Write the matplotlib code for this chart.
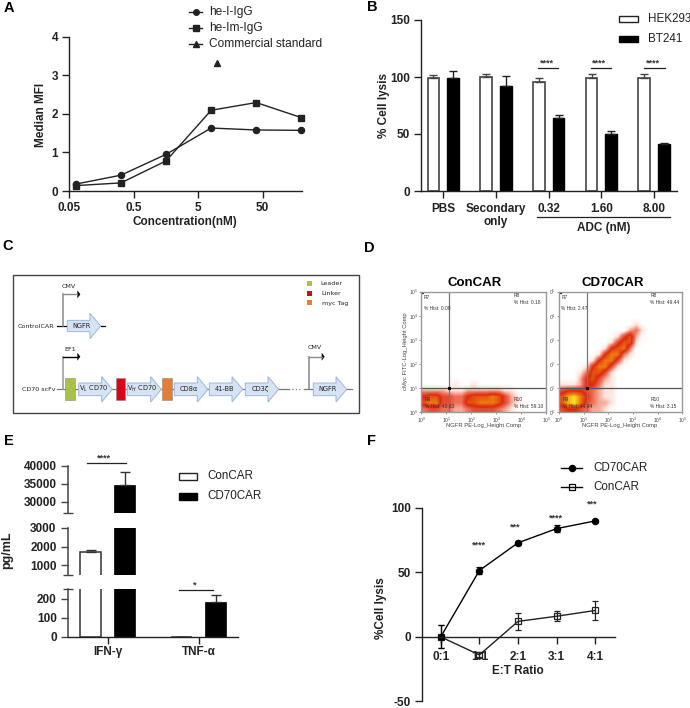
import matplotlib
matplotlib.use('Agg')
import matplotlib.pyplot as plt
import numpy as np
from matplotlib.colors import LinearSegmentedColormap
from matplotlib.patches import Polygon, Rectangle

W, H = 690, 708
DARK = '#222222'

# panel A
conc = [0.064, 0.32, 1.6, 8, 40, 200]
he_i = [0.18, 0.41, 0.95, 1.63, 1.58, 1.57]
he_im = [0.14, 0.21, 0.78, 2.09, 2.29, 1.90]
std_conc = [10]
std_val = [3.32]

# panel B
b_groups = ['PBS', 'Secondary\nonly', '0.32', '1.60', '8.00']
hek = [99.5, 100, 96, 99, 99.5]
hek_err = [2.5, 2.5, 3.5, 3.5, 3.5]
bt = [99.5, 92.5, 64, 50, 41]
bt_err = [6, 8, 3, 2.5, 1.5]

# panel D, density read per quarter decade, top row first
con_density = [
    '00000000000000000000',
    '00000100100000000000',
    '22221112222221100000',
    '56644335666764210000',
    '67744336677764210000',
    '34433223444432100000',
]
cd70_density = [
    '00000000000000000000',
    '00000000000010000000',
    '00000000000231000000',
    '00000000014620000000',
    '00000000146610000000',
    '00000001567300000000',
    '00000015773100000000',
    '00000157741000000000',
    '00001577410000000000',
    '00013664100000000000',
    '00025642100000000000',
    '11125531100000000000',
    '45554321100000000000',
    '68975321100000000000',
    '68974322100000000000',
    '45543221000000000000',
]
con_hist = ['0.09', '0.18', '40.63', '59.10']
cd70_hist = ['2.47', '49.44', '44.94', '3.15']

# panel E
e_groups = ['IFN-γ', 'TNF-α']
con_e = [1700, 0]
con_e_err = [120, 0]
cd70_e = [34800, 185]
cd70_e_err = [3500, 33]

# panel F
ratios = ['0:1', '1:1', '2:1', '3:1', '4:1']
cd70_f = [0, 51.5, 73, 84, 90]
cd70_f_err = [9, 3, 1.5, 2.5, 1]
con_f = [0, -14, 12, 16, 20.5]
con_f_err = [9, 2, 6.5, 4, 7.5]

plt.rcParams['font.family'] = ['Liberation Sans', 'DejaVu Sans']
plt.rcParams['axes.linewidth'] = 1.0
plt.rcParams['axes.edgecolor'] = DARK
plt.rcParams['axes.unicode_minus'] = False
plt.rcParams['xtick.color'] = DARK
plt.rcParams['ytick.color'] = DARK

fig = plt.figure(figsize=(W / 100, H / 100), dpi=100)


def make_ax(left, top, right, bottom):
    return fig.add_axes([left / W, 1 - bottom / H, (right - left) / W, (bottom - top) / H])


def style_ax(ax, size=8.5):
    ax.spines['top'].set_visible(False)
    ax.spines['right'].set_visible(False)
    ax.patch.set_alpha(0)
    ax.tick_params(length=5, width=1, labelsize=size, pad=3)
    for lab in ax.get_xticklabels() + ax.get_yticklabels():
        lab.set_fontweight('bold')


# pixel overlay for labels, legends and the schematic
ov = fig.add_axes([0, 0, 1, 1], zorder=10)
ov.set_xlim(0, W)
ov.set_ylim(H, 0)
ov.axis('off')
ov.patch.set_alpha(0)


def txt(x, y, s, size=8.5, bold=True, ha='center', rot=0, color=DARK, **kw):
    ov.text(x, y, s, fontsize=size, fontweight='bold' if bold else 'normal', ha=ha,
            va='center', rotation=rot, color=color, **kw)


def stars(x, y, s, size=6.5):
    txt(x, y, s, size=size, bold=True, color='#333333')


def sig_line(x1, x2, y):
    ov.plot([x1, x2], [y, y], color=DARK, lw=0.9)


for letter, x, y in [('A', 9, 8), ('B', 372, 7), ('C', 8, 246), ('D', 369, 248),
                     ('E', 9, 441), ('F', 371, 441)]:
    txt(x, y, letter, size=10.5, color='black')

# A
ax = make_ax(69, 36.5, 302, 191)
ax.plot(conc, he_i, '-o', color=DARK, lw=1, ms=4.4, clip_on=False)
ax.plot(conc, he_im, '-s', color=DARK, lw=1, ms=4.4, clip_on=False)
ax.plot(std_conc, std_val, '^', color=DARK, ms=4.2, clip_on=False)
ax.set_xscale('log')
ax.set_xlim(0.05, 204.7)
ax.set_ylim(0, 4)
ax.set_xticks([0.05, 0.5, 5, 50])
ax.set_xticklabels(['0.05', '0.5', '5', '50'])
ax.minorticks_off()
ax.set_yticks([0, 1, 2, 3, 4])
style_ax(ax)
ax.tick_params(axis='x', pad=3)
txt(41, 115, 'Median MFI', rot=90)
txt(185, 222, 'Concentration(nM)')
for y, m, s in [(11.5, 'o', 'he-I-IgG'), (28, 's', 'he-Im-IgG'), (44, '^', 'Commercial standard')]:
    ov.plot([189, 202], [y, y], color=DARK, lw=1)
    ov.plot([195.7], [y], m, color=DARK, ms=4)
    txt(209, y, s, size=8.6, bold=False, ha='left')

# B
ax = make_ax(421, 20, 677, 191)
pos = np.arange(len(b_groups))
ax.bar(pos - 0.187, hek, 0.225, color='white', edgecolor='#444444', lw=1.2,
       yerr=[[0] * 5, hek_err], ecolor='#444444', error_kw=dict(capsize=3, lw=1, capthick=1))
ax.bar(pos + 0.187, bt, 0.225, color='black', edgecolor='black', lw=1,
       yerr=[[0] * 5, bt_err], ecolor=DARK, error_kw=dict(capsize=3, lw=1, capthick=1))
ax.set_xlim(-0.423, 4.435)
ax.set_ylim(0, 150)
ax.set_yticks([0, 50, 100, 150])
ax.set_xticks(pos)
ax.set_xticklabels(b_groups, linespacing=1.1)
style_ax(ax)
ax.tick_params(axis='x', pad=3.5)
txt(384, 105, '% Cell lysis', rot=90)
sig_line(538, 558, 68)
sig_line(590.5, 610.5, 68.3)
sig_line(643.5, 664.5, 68.3)
for x in [546.5, 599, 653]:
    stars(x, 63.5, '****')
ov.plot([536.7, 670], [217, 217], color=DARK, lw=0.9)
txt(603.7, 227.7, 'ADC (nM)')
ov.add_patch(Rectangle((618.5, 15.5), 19, 6, fc='white', ec=DARK, lw=1))
ov.add_patch(Rectangle((618.5, 36), 19, 6, fc='black', ec='black', lw=1))
txt(648, 18.5, 'HEK293', size=8.4, bold=False, ha='left')
txt(648, 39, 'BT241', size=8.4, bold=False, ha='left')

# C, schematic drawn in pixels of the zoomed crop
def cx(v):
    return v / 3


def cy(v):
    return v / 3 + 235


def block_arrow(x1, x2, yc, label, body=19, head=38, hl=32):
    pts = [(x1, yc - body), (x2 - hl, yc - body), (x2 - hl, yc - head), (x2, yc),
           (x2 - hl, yc + head), (x2 - hl, yc + body), (x1, yc + body)]
    ov.add_patch(Polygon([(cx(a), cy(b)) for a, b in pts], fc='#d6e3f5', ec='#9db5d6', lw=0.7, zorder=3))
    ov.text(cx((x1 + x2 - 12) / 2), cy(yc), label, fontsize=4.8, family='DejaVu Sans', color=DARK,
            ha='center', va='center', zorder=4)


def c_line(xs, ys, color='#777777', lw=0.9, **kw):
    ov.plot([cx(v) for v in xs], [cy(v) for v in ys], color=color, lw=lw, **kw)


def promoter(x, y0, y1, x1, color='#888888'):
    c_line([x, x], [y0, y1], color=color, lw=1.1)
    c_line([x, x1], [y1, y1], color=color, lw=1.0)
    ov.add_patch(Polygon([(cx(x1), cy(y1 - 12)), (cx(x1 + 9), cy(y1)), (cx(x1), cy(y1 + 12))], fc='black', ec='none'))


def c_text(x, y, s, ha='center'):
    ov.text(cx(x), cy(y), s, fontsize=4.6, family='DejaVu Sans', color=DARK, ha=ha, va='center')


ov.add_patch(Rectangle((13, 275), 345.7, 137.7, fc='white', ec='#444444', lw=1))
c_line([172, 202], [273, 273], color='black')
c_line([302, 316], [273, 273], color='black')
promoter(188, 273, 178, 232)
block_arrow(202, 302, 273, 'NGFR', body=17)
c_line([172, 868], [463, 463])
c_line([875, 900], [463, 463], ls=':')
c_line([912, 1056], [463, 463])
promoter(188, 463, 365, 232, color='#999999')
ov.plot([cx(188), cx(232)], [cy(365), cy(365)], color='black', lw=0.9)
promoter(928, 463, 365, 965)
for x1, x2, s in [(236, 337, 'V$_L$ CD70'), (382, 484, 'V$_H$ CD70'), (523, 624, 'CD8α'),
                  (628, 728, '41-BB'), (736, 836, 'CD3ζ'), (940, 1040, 'NGFR')]:
    block_arrow(x1, x2, 463, s)
for x1, col in [(196, '#a9c23f'), (347, '#e0001a'), (487, '#e57e31')]:
    ov.add_patch(Rectangle((cx(x1), cy(430)), 28 / 3, 66 / 3, fc=col, ec='#888888', lw=0.4, zorder=3))
c_text(207, 154, 'CMV')
c_text(211, 343, 'EF1')
c_text(945, 338, 'CMV')
c_text(162, 274, 'ControlCAR', ha='right')
c_text(168, 463, 'CD70 scFv', ha='right')
for y, tx, col, s in [(145, 961, '#a9c23f', 'Leader'), (175, 963, '#e0001a', 'Linker'), (204, 965, '#e57e31', 'myc Tag')]:
    ov.add_patch(Rectangle((cx(922), cy(y - 8)), 14 / 3, 15 / 3, fc=col, ec='none'))
    c_text(tx, y, s, ha='left')

# D
flow_cmap = LinearSegmentedColormap.from_list(
    'flow', [(0, '#ffffff'), (0.11, '#fde6de'), (0.33, '#ee7058'), (0.55, '#dc2a10'),
             (0.78, '#ee7a10'), (1, '#f6e620')])


def flow_panel(box, grid, hist, left_labels):
    a = make_ax(*box)
    data = np.array([[int(c) for c in row] for row in grid], dtype=float)
    top = data.shape[0] * 0.25
    a.imshow(data, cmap=flow_cmap, vmin=0, vmax=9, extent=(0, 5, 0, top), aspect='auto', interpolation='bilinear')
    a.set_xlim(0, 5)
    a.set_ylim(0, 5)
    a.axvline(1.12, color='#777777', lw=0.9)
    a.axhline(1.0, color='#555555', lw=0.9)
    a.plot([1.12, 0.03], [1.0, 4.97], 's', color='black', ms=1.3)
    for s in a.spines.values():
        s.set_color('#999999')
    a.set_xticks(range(6))
    a.set_yticks(range(6))
    a.set_xticklabels(['$\\mathregular{10^{%d}}$' % i for i in range(6)])
    pre = '10' if left_labels else '0'
    a.set_yticklabels(['$\\mathregular{%s^{%d}}$' % (pre, i) for i in range(6)])
    a.tick_params(length=1.5, width=0.4, labelsize=3.5, pad=1, colors='#444444')
    for x, y, r, h in [(0.1, 4.75, 'R7', hist[0]), (3.7, 4.85, 'R8', hist[1]),
                       (0.15, 0.52, 'R9', hist[2]), (3.7, 0.52, 'R10', hist[3])]:
        a.text(x, y, r, fontsize=3.5, color='#333333', va='center')
        a.text(x, y - 0.3 if r != 'R7' else y - 0.45, '% Hist: ' + h, fontsize=3.5, color='#333333', va='center')
    return a


flow_panel((421.3, 291.7, 546.3, 412.3), con_density, con_hist, True)
flow_panel((559, 291.7, 682.3, 412.3), cd70_density, cd70_hist, False)
txt(474.3, 282.7, 'ConCAR', size=9.5, color='black')
txt(612.7, 282.7, 'CD70CAR', size=9.5, color='black')
txt(483.3, 425.5, 'NGFR PE-Log_Height Comp', size=4.2, bold=False, color='#444444')
txt(620, 425.5, 'NGFR PE-Log_Height Comp', size=4.2, bold=False, color='#444444')
txt(405, 351, 'cMyc FITC-Log_Height Comp', size=4.2, bold=False, rot=90, color='#444444')

# E, three stacked pieces of a broken axis
segments = [((589.3, 636.7), (0, 250), [0, 100, 200]),
            ((528, 574.7), (500, 3000), [1000, 2000, 3000]),
            ((466, 512.7), (27000, 40000), [30000, 35000, 40000])]
e_pos = np.arange(len(e_groups))
for i, ((top, bottom), lim, ticks) in enumerate(segments):
    ax = make_ax(68.3, top, 238, bottom)
    ax.bar(e_pos - 0.187, con_e, 0.225, color='white', edgecolor='#333333', lw=1.1,
           yerr=[[0, 0], con_e_err], ecolor='#333333', error_kw=dict(capsize=3.6, lw=1, capthick=1))
    ax.bar(e_pos + 0.187, cd70_e, 0.23, color='black', edgecolor='black', lw=0.5,
           yerr=[[0, 0], cd70_e_err], ecolor='#333333', error_kw=dict(capsize=3.6, lw=1, capthick=1))
    ax.set_xlim(-0.433, 1.432)
    ax.set_ylim(*lim)
    ax.set_yticks(ticks)
    if i == 0:
        ax.set_xticks(e_pos)
        ax.set_xticklabels(e_groups)
    else:
        ax.spines['bottom'].set_visible(False)
        ax.set_xticks([])
    style_ax(ax, size=8.5)
    ax.spines['left'].set_color('#444444')
    ax.spines['left'].set_linewidth(1.1)
    ax.tick_params(axis='y', color='#444444', length=5.4)
    ax.set_yticks([v for v in lim if v not in ticks and v != 0], minor=True)
    ax.tick_params(axis='y', which='minor', direction='inout', length=7, width=1, color='#444444')
    ax.tick_params(axis='x', pad=2)
txt(7.3, 550.7, 'pg/mL', size=9, rot=90)
sig_line(87.3, 125.7, 463)
stars(104.3, 458.5, '****')
sig_line(179, 213.3, 590.3)
stars(195, 585.5, '*')
ov.add_patch(Rectangle((179, 473), 18.3, 6.5, fc='white', ec=DARK, lw=1))
ov.add_patch(Rectangle((179, 493), 18.3, 6.5, fc='black', ec='black', lw=1))
txt(207.7, 476.3, 'ConCAR', size=8.4, bold=False, ha='left')
txt(207.7, 496.3, 'CD70CAR', size=8.4, bold=False, ha='left')

# F
ax = make_ax(422, 508, 615, 701.3)
f_pos = np.arange(len(ratios))
ax.errorbar(f_pos, con_f, yerr=con_f_err, fmt='-s', color=DARK, mfc='none', mew=0.9, ms=4.3, lw=1,
            capsize=2.5, capthick=0.9, elinewidth=0.9, clip_on=False)
ax.errorbar(f_pos, cd70_f, yerr=cd70_f_err, fmt='-o', color='black', ms=4.4, lw=1,
            capsize=2.5, capthick=0.9, elinewidth=0.9, clip_on=False)
ax.set_xlim(-0.485, 4.51)
ax.set_ylim(-50, 100)
ax.spines['bottom'].set_position(('data', 0))
ax.set_xticks(f_pos)
ax.set_xticklabels(ratios)
ax.set_yticks([-50, 0, 50, 100])
style_ax(ax)
ax.tick_params(axis='x', pad=5)
txt(380.7, 608.3, '%Cell lysis', rot=90)
txt(517.7, 671, 'E:T Ratio')
for x, y, s in [(479, 545.5, '****'), (514.7, 527, '***'), (556.3, 518.5, '****'), (592.3, 504, '***')]:
    stars(x, y, s)
ov.plot([561, 582.3], [468.3, 468.3], color='black', lw=1)
ov.plot([571.5], [468.3], 'o', color='black', ms=4.4)
ov.plot([561, 582.3], [487, 487], color='black', lw=1)
ov.plot([571.5], [487], 's', mfc='none', mec='black', mew=0.9, ms=4.3)
txt(593.3, 468.3, 'CD70CAR', size=8.4, bold=False, ha='left')
txt(593.3, 487, 'ConCAR', size=8.4, bold=False, ha='left')

fig.savefig('out.png', dpi=100)
plt.close(fig)
